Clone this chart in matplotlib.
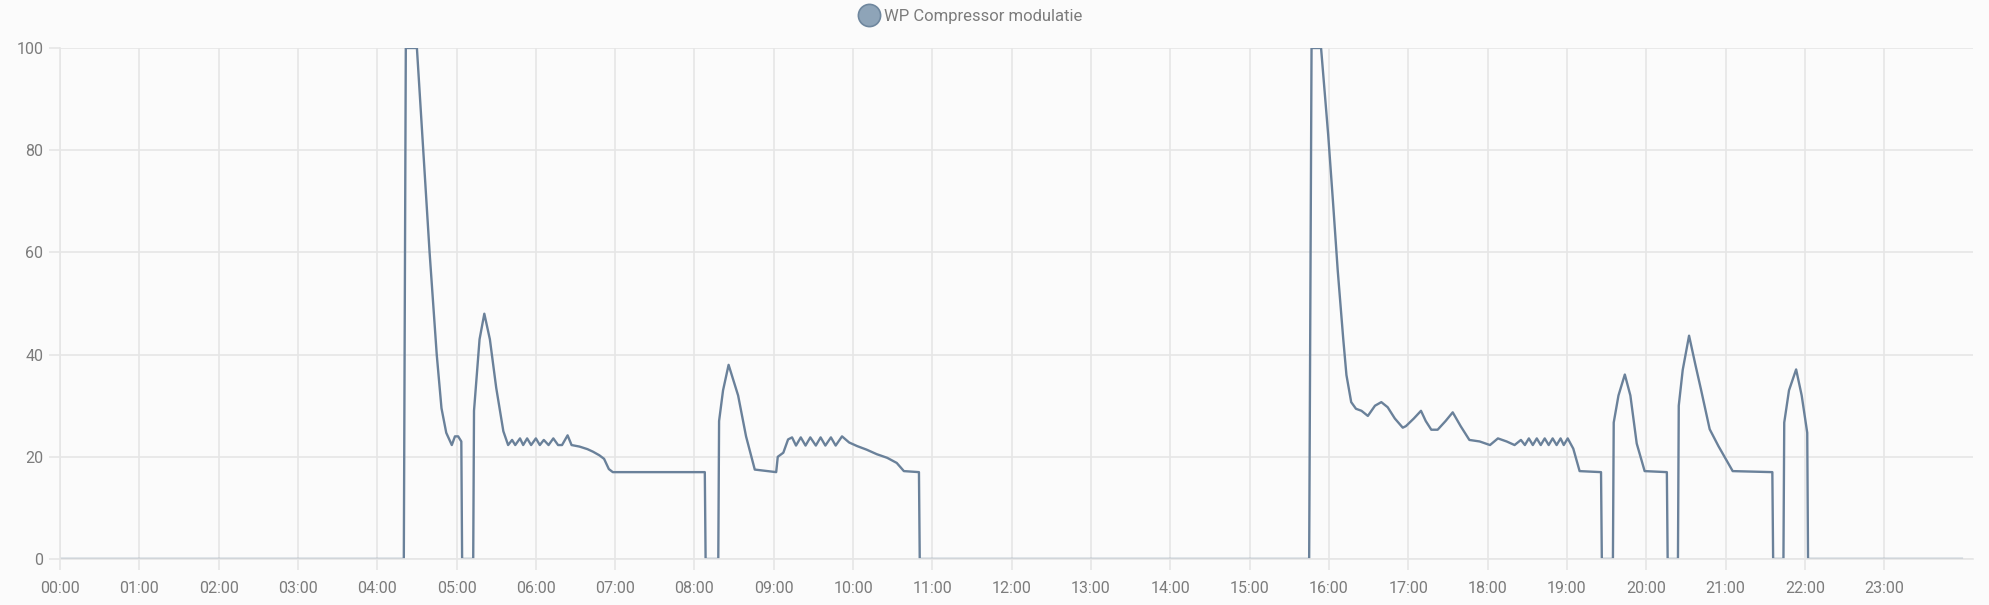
import numpy as np
import matplotlib
matplotlib.use('Agg')
import matplotlib.pyplot as plt
from matplotlib.lines import Line2D
from matplotlib.ticker import FuncFormatter

# Uren (decimaal) en modulatie (%)
# Ochtendblok
tijd_ochtend = [0.0, 4.335, 4.36, 4.50, 4.58, 4.66, 4.75, 4.81, 4.87, 4.94, 4.98, 5.02, 5.06,
                5.07, 5.21, 5.22, 5.29, 5.35, 5.42, 5.50, 5.59, 5.65,
                5.70, 5.74, 5.80, 5.84, 5.89, 5.94, 6.00, 6.05, 6.10, 6.16, 6.22, 6.28, 6.33,
                6.40, 6.45, 6.55, 6.65, 6.72, 6.80, 6.86, 6.92, 6.97, 8.13,
                8.14, 8.30, 8.31, 8.36, 8.43, 8.55, 8.65, 8.76, 9.03, 9.05, 9.12, 9.18,
                9.23, 9.28, 9.34, 9.40, 9.46, 9.53, 9.59, 9.65, 9.72, 9.78, 9.86, 9.95,
                10.05, 10.17, 10.30, 10.43, 10.55, 10.64, 10.83, 10.84]
mod_ochtend = [0, 0, 100, 100, 80, 60, 40, 29.5, 24.7, 22.3, 24, 24, 23,
               0, 0, 29, 43, 48, 43, 33.5, 25, 22.3,
               23.3, 22.3, 23.6, 22.3, 23.6, 22.3, 23.6, 22.3, 23.3, 22.3, 23.6, 22.3, 22.3,
               24.2, 22.3, 22, 21.5, 21, 20.3, 19.6, 17.6, 17, 17,
               0, 0, 27, 33, 38, 32, 24, 17.5, 17, 20, 20.8, 23.4,
               23.8, 22.2, 23.8, 22.2, 23.8, 22.2, 23.8, 22.2, 23.8, 22.2, 24, 22.8,
               22.1, 21.4, 20.5, 19.8, 18.8, 17.2, 17, 0]

# Middag/avondblok
tijd_middag = [15.75, 15.78, 15.90, 15.99, 16.05, 16.11, 16.18, 16.22, 16.28, 16.34, 16.41, 16.49,
               16.58, 16.66, 16.74, 16.83, 16.93, 16.97, 17.07, 17.16, 17.22, 17.29, 17.37,
               17.47, 17.56, 17.66, 17.77, 17.90, 18.03, 18.13, 18.24, 18.34, 18.42,
               18.47, 18.52, 18.57, 18.62, 18.67, 18.72, 18.77, 18.82, 18.87, 18.92, 18.96, 19.01,
               19.08, 19.16, 19.43, 19.44, 19.58, 19.59, 19.65, 19.73, 19.80, 19.88, 19.98, 20.26,
               20.27, 20.40, 20.41, 20.46, 20.54, 20.62, 20.69, 20.80, 20.91, 21.09, 21.59,
               21.60, 21.73, 21.74, 21.80, 21.89, 21.96, 22.03, 22.04, 23.98]
mod_middag = [0, 100, 100, 83, 70, 56.5, 43, 36, 30.7, 29.4, 29, 28,
              30, 30.7, 29.7, 27.5, 25.7, 26, 27.5, 29, 27, 25.3, 25.3,
              27, 28.7, 26, 23.3, 23, 22.3, 23.6, 23, 22.3, 23.3,
              22.3, 23.6, 22.3, 23.6, 22.3, 23.6, 22.3, 23.6, 22.3, 23.6, 22.3, 23.6,
              21.6, 17.2, 17, 0, 0, 26.7, 32, 36.1, 32, 22.6, 17.2, 17,
              0, 0, 30, 37, 43.7, 38, 33.2, 25.4, 22.1, 17.2, 17,
              0, 0, 26.7, 33, 37.1, 32, 24.7, 0, 0]

uren = list(range(24))
y_ticks = [0, 20, 40, 60, 80, 100]
reeks_naam = 'WP Compressor modulatie'

tijd = np.array(tijd_ochtend + tijd_middag)
modulatie = np.array(mod_ochtend + mod_middag)

lijn_kleur = '#6a819a'
grid_kleur = '#e6e6e6'
tekst_kleur = '#7c7c7c'
achtergrond = '#fbfbfb'

plt.rcParams['font.family'] = ['Roboto', 'DejaVu Sans']

fig = plt.figure(figsize=(19.89, 6.05), dpi=100, facecolor=achtergrond)
ax = fig.add_axes([60/1989, 1 - 559/605, (1973 - 60)/1989, (559 - 48)/605])
ax.set_facecolor(achtergrond)

ax.plot(tijd, modulatie, color=lijn_kleur, linewidth=1.7, solid_joinstyle='round')

ax.set_xlim(0, 24.12)
ax.set_ylim(0, 100)
ax.set_xticks(uren)
ax.xaxis.set_major_formatter(FuncFormatter(lambda v, p: '%02d:00' % int(v)))
ax.set_yticks(y_ticks)

ax.grid(True, color=grid_kleur, linewidth=1.2)
ax.set_axisbelow(True)
for s in ['top', 'right']:
    ax.spines[s].set_visible(False)
ax.spines['left'].set_color(grid_kleur)
ax.spines['bottom'].set_color(grid_kleur)
ax.spines['left'].set_linewidth(1.2)
ax.spines['bottom'].set_linewidth(1.2)
ax.tick_params(axis='both', colors=grid_kleur, length=8, width=1.2, labelcolor=tekst_kleur,
               labelsize=11.5)
ax.tick_params(axis='x', pad=8)
ax.tick_params(axis='y', pad=4)

handle = Line2D([], [], linestyle='none', marker='o', markersize=16,
                markerfacecolor='#8ea4b8', markeredgecolor='#6f879e', markeredgewidth=1.2)
fig.legend([handle], [reeks_naam], loc='center', bbox_to_anchor=(0.488, 1 - 16/605),
           frameon=False, fontsize=12, labelcolor=tekst_kleur, handletextpad=0.3,
           handlelength=1.2)

fig.savefig('out.png', dpi=100, facecolor=achtergrond)
